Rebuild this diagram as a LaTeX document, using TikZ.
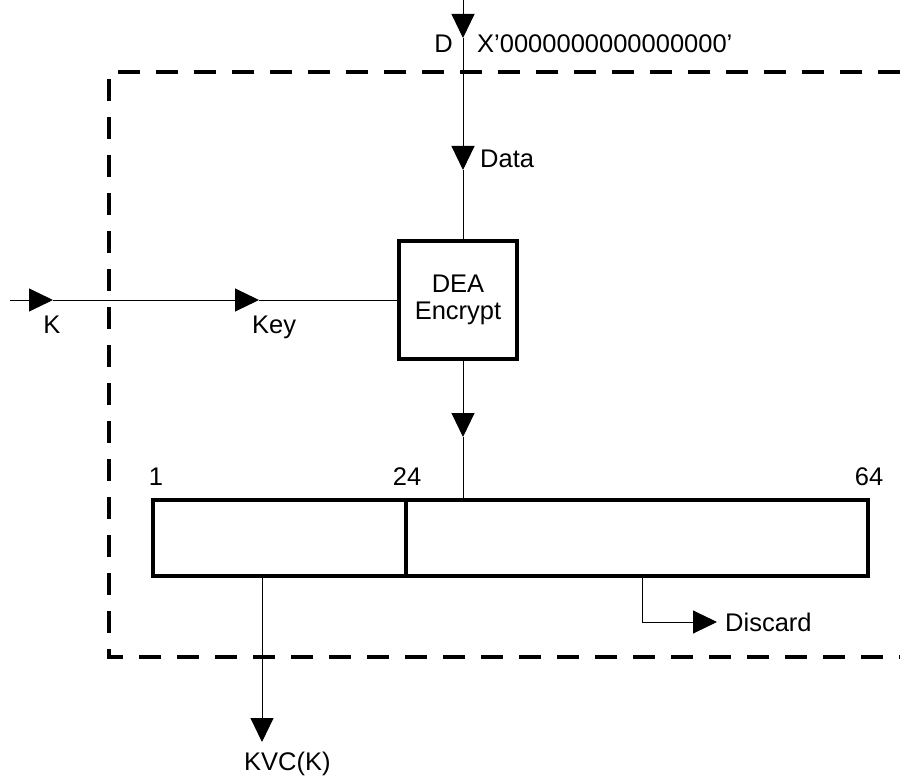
\documentclass[tikz,border=0pt]{standalone}
\usepackage{fontspec}
\setmainfont{Liberation Sans}
\usepackage{tikz}
\usetikzlibrary{positioning,arrows.meta}
\tikzset{
  wire/.style={draw=black,line width=1pt},
  flow/.style={wire,-{Triangle[length=24pt,width=23pt]}},
  boundary/.style={draw=black,line width=4.5pt,dash pattern=on 22pt off 16pt},
  deabox/.style={draw=black,line width=4pt,minimum size=118pt,align=center,inner sep=0pt,font=\fontsize{25.5}{27}\selectfont},
  regbox/.style={draw=black,line width=4pt,minimum height=76pt,inner sep=0pt},
  lbl/.style={inner sep=0pt,font=\fontsize{25.5}{27}\selectfont}
}

\begin{document}
\begin{tikzpicture}[x=1pt,y=1pt]
  \useasboundingbox (0,0) rectangle (900,-778);
  % boundary of the device
  \draw[boundary] (900,-72) -- (109,-72) -- (109,-657) -- (900,-657);
  \node[deabox] (dea) at (458,-300) {DEA\\Encrypt};
  \node[regbox,minimum width=253pt] (reglo) at (279.5,-538) {};
  \node[regbox,minimum width=462pt] (reghi) at (637,-538) {};
  % data input
  \coordinate (din) at (463,0);
  \coordinate (d1) at (463,-38);
  \coordinate (d2) at (463,-170);
  \draw[flow] (din) -- (d1);
  \draw[flow] (d1) -- (d2);
  \draw[wire] (d2) -- (d2 |- dea.north);
  \node[lbl,anchor=base east] (dlbl) at (453,-53) {D};
  \node[lbl,anchor=base west] (zeros) at (477,-53) {X'0000000000000000'};
  \node[lbl,anchor=base west] (datalbl) at (480,-168) {Data};
  % key input
  \coordinate (kin) at (10,-300);
  \coordinate (k1) at (53,-300);
  \coordinate (k2) at (259,-300);
  \draw[flow] (kin) -- (k1);
  \draw[flow] (k1) -- (k2);
  \draw[wire] (k2) -- (dea.west);
  \node[lbl,anchor=base] (klbl) at (52,-333) {K};
  \node[lbl,anchor=base west] (keylbl) at (252,-333) {Key};
  % output into register
  \coordinate (e1) at (463,-437);
  \draw[flow] (e1 |- dea.south) -- (e1);
  \draw[wire] (e1) -- (e1 |- reghi.north);
  \node[lbl,anchor=base] (b1) at (156,-485) {1};
  \node[lbl,anchor=base] (b24) at (407,-485) {24};
  \node[lbl,anchor=base] (b64) at (869,-485) {64};
  % results
  \coordinate (v1) at (262,-742);
  \draw[flow] (v1 |- reglo.south) -- (v1);
  \node[lbl,anchor=base west] (kvclbl) at (244,-770) {KVC(K)};
  \coordinate (x0) at (642,-622);
  \coordinate (x1) at (717,-622);
  \draw[flow] (x0 |- reghi.south) -- (x0) -- (x1);
  \node[lbl,anchor=base west] (discard) at (725,-631) {Discard};
\end{tikzpicture}
\end{document}
